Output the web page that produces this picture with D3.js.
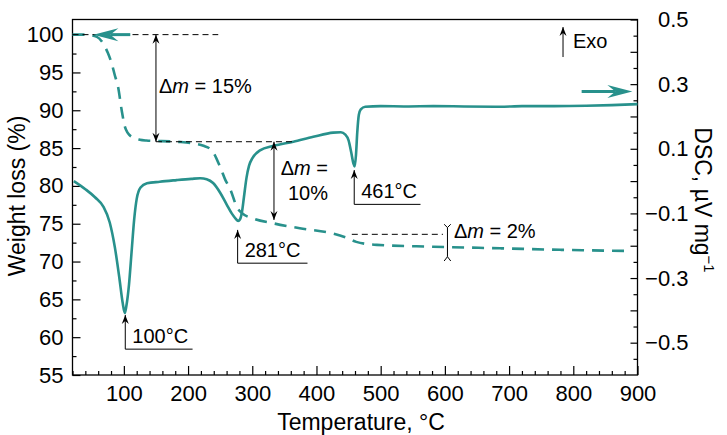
<!DOCTYPE html>
<html>
<head>
<meta charset="utf-8">
<script src="https://cdn.jsdelivr.net/npm/d3@7"></script>
<style>
  body { margin: 0; background: #fff; }
  text { font-family: "Liberation Sans", Arial, sans-serif; fill: #000; }
</style>
</head>
<body>
<div id="chart"></div>
<script>
// --- Chart Dimensions ---
const width = 727;
const height = 435;
const teal = "#28918c";
const font = '"Liberation Sans", Arial, sans-serif';

// --- Data ---
// TG curve: temperature (°C) and weight (%)
const tgTemp = [20, 40, 58, 68, 75, 81, 86, 91, 96.6, 101.7, 106, 112, 125, 135, 182, 210, 224, 237, 250, 258, 266, 276, 284, 301, 333, 374, 426, 445, 462, 494, 582, 686, 780, 882];
const tgWeight = [100, 100, 99.7, 98.8, 97.6, 96.2, 94.6, 93.1, 90.0, 87.8, 87.0, 86.5, 86.1, 86.0, 85.84, 85.6, 85.3, 84.7, 82.5, 80.8, 79.5, 77.2, 76.4, 75.7, 75.05, 74.4, 73.7, 73.2, 72.6, 72.2, 71.96, 71.75, 71.55, 71.4];

// DSC curve: temperature (°C) and heat flow (µV/mg)
const dscTemp = [22, 40, 55, 68, 78, 86, 93, 98, 101.5, 104, 108, 112, 116, 120, 126, 136, 156, 182, 205, 219, 229, 239, 250, 260, 268, 274, 278, 281, 284, 287, 291, 295, 300, 312, 333, 364, 395, 426, 438, 445, 450, 454, 457.5, 459.5, 461.5, 463.5, 466, 469, 476, 500, 540, 582, 630, 686, 720, 770, 820, 860, 900];
const dscValue = [0.0, -0.025, -0.05, -0.079, -0.128, -0.205, -0.3, -0.375, -0.408, -0.385, -0.32, -0.22, -0.12, -0.055, -0.02, -0.007, -0.002, 0.003, 0.007, 0.009, 0.006, -0.006, -0.036, -0.072, -0.1, -0.116, -0.123, -0.118, -0.095, -0.05, 0.01, 0.048, 0.07, 0.095, 0.109, 0.122, 0.137, 0.15, 0.151, 0.144, 0.126, 0.09, 0.055, 0.045, 0.08, 0.15, 0.205, 0.222, 0.23, 0.232, 0.231, 0.232, 0.231, 0.23, 0.232, 0.232, 0.233, 0.235, 0.238];

// tick labels
const xTicks = [100, 200, 300, 400, 500, 600, 700, 800, 900];
const weightTicks = [55, 60, 65, 70, 75, 80, 85, 90, 95, 100];
const dscTickLabels = [-0.5, -0.3, -0.1, 0.1, 0.3, 0.5];

// annotations, in data units
const peaks = [
  { label: "100°C", t: 102.2, tip: -0.414, bottom: -0.52, end: 207 },
  { label: "281°C", t: 277.2, tip: -0.151, bottom: -0.254, end: 386 },
  { label: "461°C", t: 458.8, tip: 0.034, bottom: -0.072, end: 562 },
];

// --- Scales ---
const x = d3.scaleLinear().domain([20, 900]).range([72.5, 637.5]);
const yW = d3.scaleLinear().domain([55, 102]).range([375, 19.5]);
const yD = d3.scaleLinear().domain([-0.6, 0.5]).range([375, 19.5]);

const svg = d3
  .select("#chart")
  .append("svg")
  .attr("width", width)
  .attr("height", height);

// --- Axes ---
function styleAxis(g) {
  g.attr("font-family", font).attr("font-size", 22);
  g.select(".domain").remove();
  g.selectAll(".tick line").attr("stroke", "#000").attr("stroke-width", 1.2);
  g.selectAll(".tick text").attr("fill", "#000");
}

const xMinor = d3.range(20, 900, 20).filter((v) => v % 100 !== 0);
svg.append("g")
  .attr("transform", `translate(0,${yW.range()[0]})`)
  .call(d3.axisBottom(x).tickValues(xMinor).tickSize(-4).tickFormat(""))
  .call(styleAxis);
svg.append("g")
  .attr("transform", `translate(0,${yW.range()[0]})`)
  .call(d3.axisBottom(x).tickValues(xTicks).tickSize(-9).tickPadding(10))
  .call(styleAxis);

const wMinor = d3.range(57.5, 102, 5);
svg.append("g")
  .attr("transform", `translate(${x.range()[0]},0)`)
  .call(d3.axisLeft(yW).tickValues(wMinor).tickSize(-4).tickFormat(""))
  .call(styleAxis);
svg.append("g")
  .attr("transform", `translate(${x.range()[0]},0)`)
  .call(d3.axisLeft(yW).tickValues(weightTicks).tickSize(-8).tickPadding(9))
  .call(styleAxis);

const dMajor = d3.range(-5, 6).map((v) => v / 10);
const dMinor = d3.range(-11, 10, 2).map((v) => v / 20);
const right = x.range()[1];
svg.append("g")
  .attr("transform", `translate(${right},0)`)
  .call(d3.axisRight(yD).tickValues(dMinor).tickSize(-4).tickFormat(""))
  .call(styleAxis);
svg.append("g")
  .attr("transform", `translate(${right},0)`)
  .call(d3.axisRight(yD).tickValues(dMajor).tickSize(-7).tickFormat(""))
  .call(styleAxis);
svg.append("g")
  .attr("transform", `translate(${right},0)`)
  .call(d3.axisRight(yD).tickValues(dscTickLabels).tickSize(0).tickFormat(d3.format(".1f")))
  .call(styleAxis)
  .call((g) => g.selectAll(".tick text").attr("x", 51).attr("text-anchor", "end"));

// frame
svg.append("rect")
  .attr("x", x.range()[0])
  .attr("y", yW.range()[1])
  .attr("width", x.range()[1] - x.range()[0])
  .attr("height", yW.range()[0] - yW.range()[1])
  .attr("fill", "none")
  .attr("stroke", "#000")
  .attr("stroke-width", 1.3);

// axis titles
svg.append("text")
  .attr("x", 361).attr("y", 430)
  .attr("text-anchor", "middle")
  .attr("font-size", 23)
  .text("Temperature, °C");

svg.append("text")
  .attr("transform", "translate(25,196) rotate(-90)")
  .attr("text-anchor", "middle")
  .attr("font-size", 23)
  .text("Weight loss (%)");

const dscTitle = svg.append("text")
  .attr("transform", "translate(695,200) rotate(90)")
  .attr("text-anchor", "middle")
  .attr("fill", "#000")
  .attr("font-size", 23);
dscTitle.append("tspan").text("DSC, µV mg");
dscTitle.append("tspan").attr("font-size", 15).attr("dy", -9).attr("fill", "#000").text("−1");

// --- Curves ---
const tgLine = d3.line()
  .x((d) => x(d[0]))
  .y((d) => yW(d[1]))
  .curve(d3.curveMonotoneX);
const dscLine = d3.line()
  .x((d) => x(d[0]))
  .y((d) => yD(d[1]))
  .curve(d3.curveMonotoneX);

svg.append("path")
  .datum(d3.zip(dscTemp, dscValue))
  .attr("d", dscLine)
  .attr("fill", "none")
  .attr("stroke", teal)
  .attr("stroke-width", 2.6);

svg.append("path")
  .datum(d3.zip(tgTemp, tgWeight))
  .attr("d", tgLine)
  .attr("fill", "none")
  .attr("stroke", teal)
  .attr("stroke-width", 2.6)
  .attr("stroke-dasharray", "12,8");

// --- Annotations ---
const ann = svg.append("g").attr("stroke", "#000").attr("fill", "none");

function dashed(t0, t1, w) {
  ann.append("line")
    .attr("x1", x(t0)).attr("x2", x(t1))
    .attr("y1", yW(w)).attr("y2", yW(w))
    .attr("stroke-width", 1)
    .attr("stroke-dasharray", "6,4");
}

// small black arrowhead, tip at (px,py), dir = -1 up, +1 down
function head(px, py, dir) {
  const l = 9, h = 3.5, n = 6;
  svg.append("path")
    .attr("d", `M${px},${py} L${px - h},${py - dir * l} L${px},${py - dir * n} L${px + h},${py - dir * l} Z`)
    .attr("fill", "#000");
}

function vArrow(t, y1, y2, both) {
  const px = x(t);
  ann.append("line")
    .attr("x1", px).attr("x2", px)
    .attr("y1", y1).attr("y2", y2)
    .attr("stroke-width", 1);
  head(px, y1, -1);
  if (both) head(px, y2, 1);
}

// Δm = 15%
dashed(20, 247, 100);
dashed(150, 364, 85.84);
vArrow(150, yW(100), yW(85.84), true);
// Δm = 10%
vArrow(333.8, yW(85.84), yW(75.5), true);
// Δm = 2%
dashed(455, 597, 73.6);
{
  const px = x(604);
  const top = yW(74.93), bot = yW(70.07);
  ann.append("path")
    .attr("d", `M${px - 3.3},${top} L${px},${top + 3.3} L${px + 3.3},${top} M${px},${top + 3.3} L${px},${bot - 4.3} M${px - 3.3},${bot} L${px},${bot - 4.3} L${px + 3.3},${bot}`)
    .attr("stroke-width", 1);
}

// peak labels
peaks.forEach((p) => {
  const px = x(p.t);
  ann.append("path")
    .attr("d", `M${px},${yD(p.tip)} L${px},${yD(p.bottom)} L${x(p.end)},${yD(p.bottom)}`)
    .attr("stroke-width", 1);
  head(px, yD(p.tip), -1);
  svg.append("text")
    .attr("x", px + 7)
    .attr("y", yD(p.bottom) - 6.5)
    .attr("font-size", 20)
    .text(p.label);
});

// Δm texts
function dmText(tx, w, value, anchor) {
  const t = svg.append("text")
    .attr("x", x(tx)).attr("y", yW(w))
    .attr("font-size", 20)
    .attr("text-anchor", anchor || "start");
  t.append("tspan").text("Δ");
  t.append("tspan").attr("font-style", "italic").text("m");
  t.append("tspan").text(" =" + (value ? " " + value : ""));
}
dmText(154.7, 92.3, "15%");
dmText(418, 81.44, "", "end");
svg.append("text")
  .attr("x", x(418)).attr("y", yW(78.1))
  .attr("font-size", 20)
  .attr("text-anchor", "end")
  .text("10%");
dmText(614, 73.07, "2%");

// Exo
vArrow(784, yW(101.0), yW(97.04), false);
svg.append("text")
  .attr("x", x(799.6)).attr("y", yW(98.19))
  .attr("font-size", 20)
  .text("Exo");

// teal direction arrows
function tealArrow(xTail, xTip, py) {
  const dir = xTip > xTail ? 1 : -1;
  const l = 25, h = 6.5, n = 17;
  svg.append("line")
    .attr("x1", xTail).attr("x2", xTip - dir * n)
    .attr("y1", py).attr("y2", py)
    .attr("stroke", teal)
    .attr("stroke-width", 3);
  svg.append("path")
    .attr("d", `M${xTip},${py} L${xTip - dir * l},${py - h} L${xTip - dir * n},${py} L${xTip - dir * l},${py + h} Z`)
    .attr("fill", teal);
}
tealArrow(x(110), x(52.5), yW(100));
tealArrow(x(813), x(892), yD(0.277));
</script>
</body>
</html>
